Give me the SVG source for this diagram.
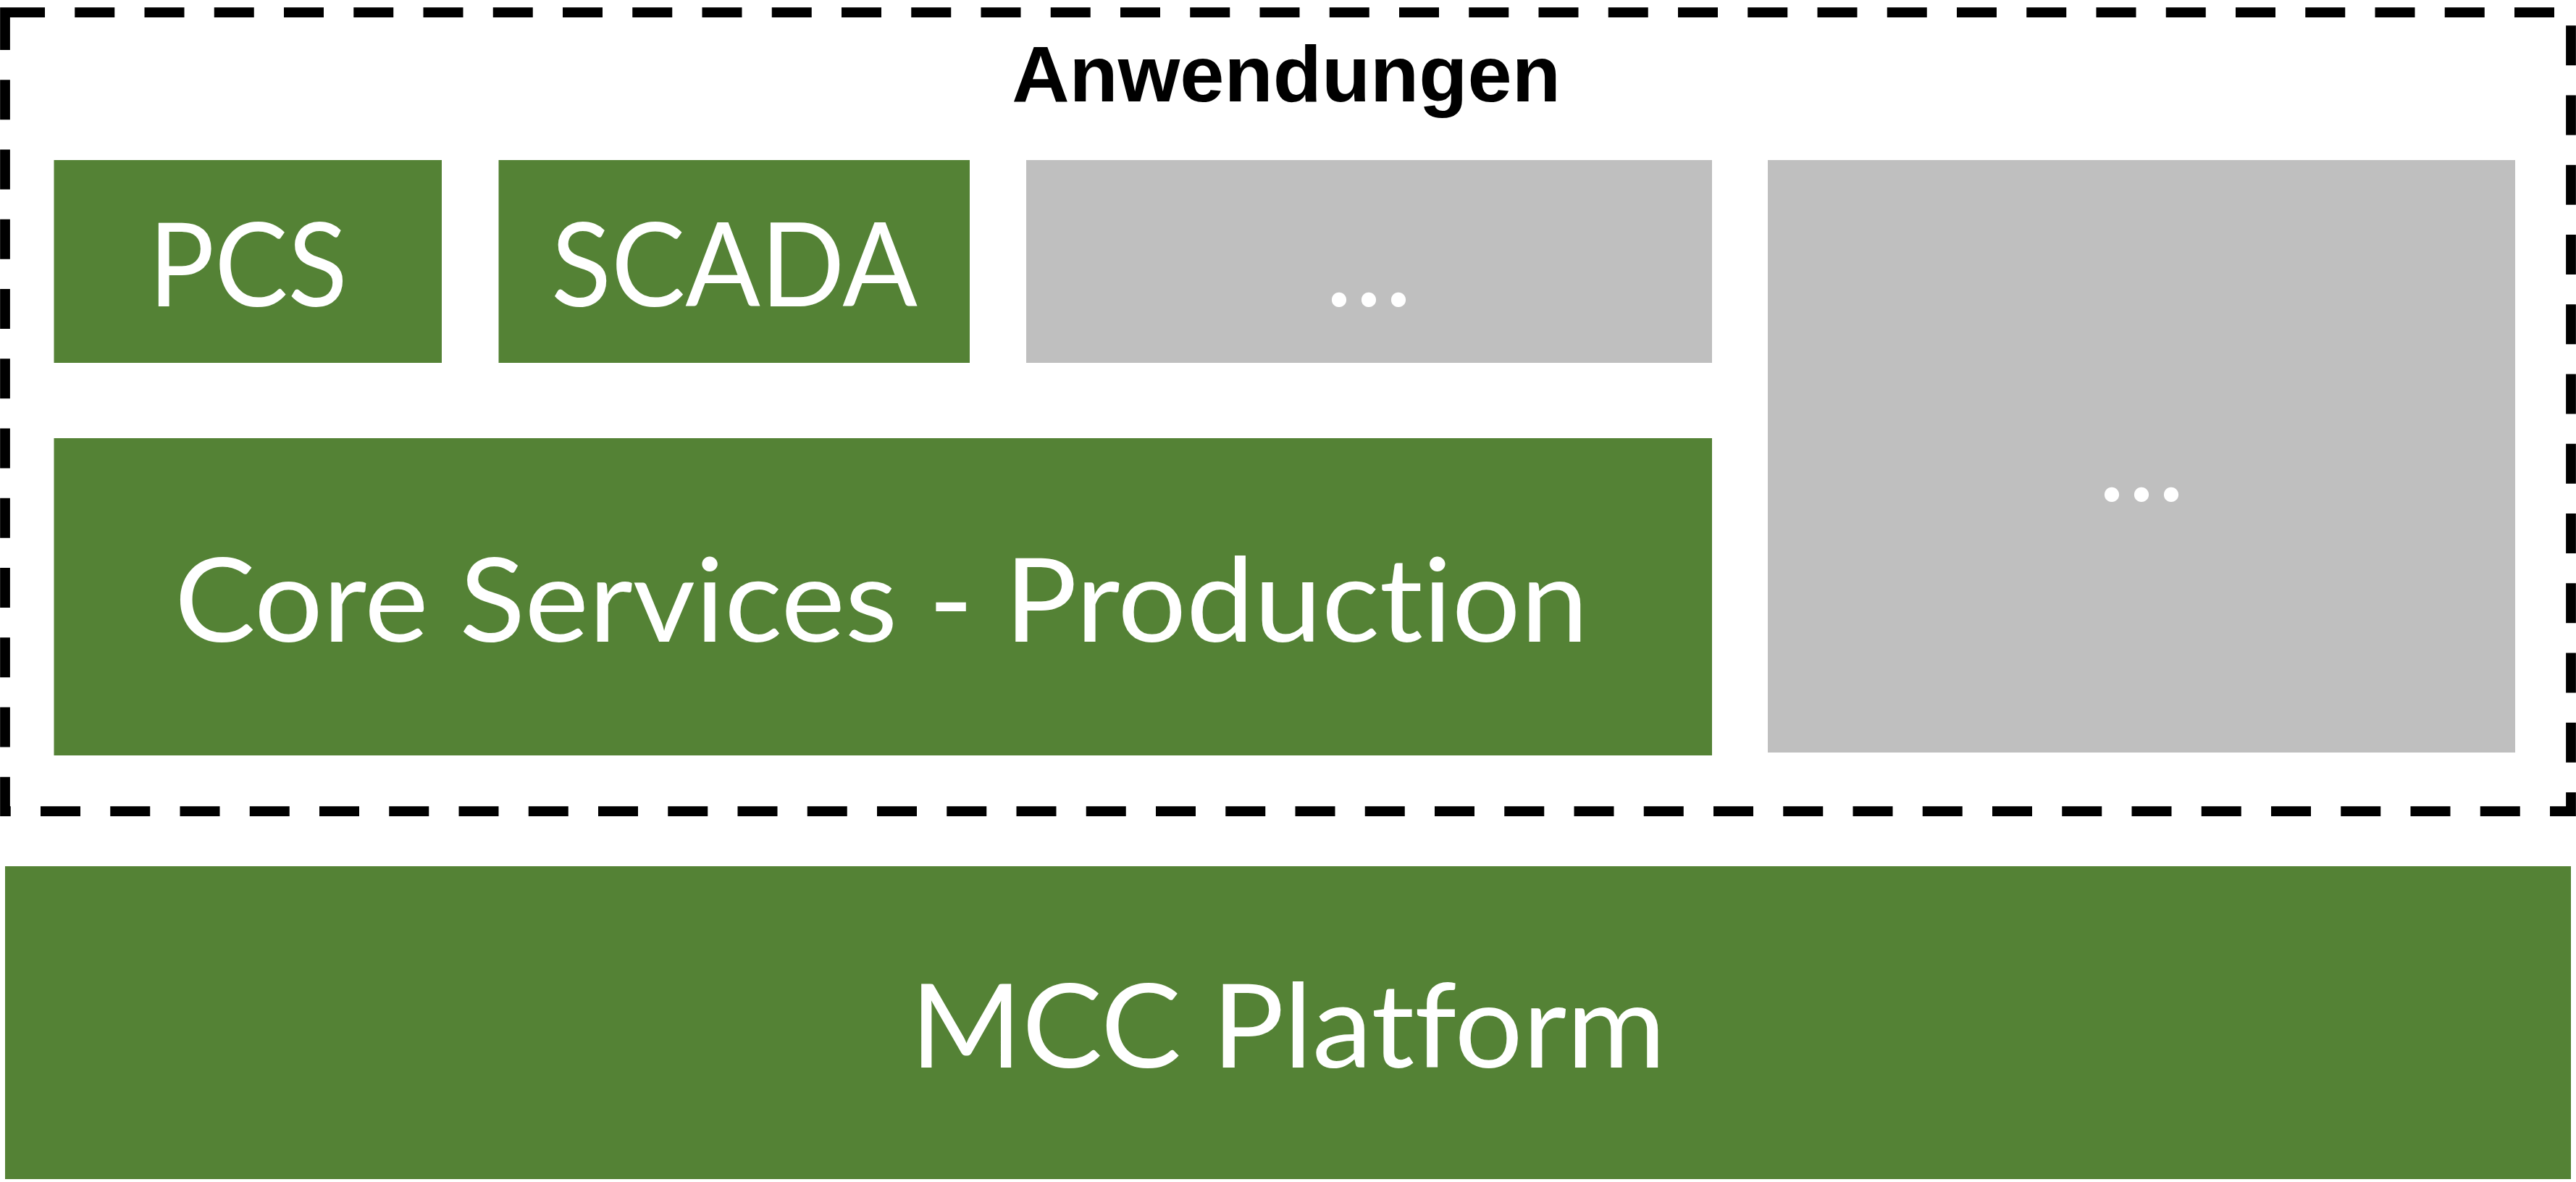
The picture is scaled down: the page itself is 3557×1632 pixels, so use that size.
<svg xmlns="http://www.w3.org/2000/svg" width="3557" height="1632" viewBox="0 0 3557 1632">
  <style>
    .green { fill: #548235; }
    .gray { fill: #BFBFBF; }
    .lbl { font-family: Lato, "Open Sans", "Liberation Sans", sans-serif; font-size: 161px; fill: #FFFFFF; text-anchor: middle; font-variant-ligatures: none; font-feature-settings: "liga" 0, "clig" 0, "dlig" 0; }
    .title { font-family: "Liberation Sans", Arial, sans-serif; font-weight: bold; font-size: 110px; fill: #000000; text-anchor: middle; }
    .frame { fill: none; stroke: #000000; stroke-width: 13.75; stroke-dasharray: 55 41.25; }
  </style>
  <rect x="0" y="0" width="3557" height="1632" fill="#FFFFFF"/>
  <g id="anwendungen">
    <rect class="frame" x="7" y="17" width="3543" height="1103"/>
    <text class="title" x="1776" y="140">Anwendungen</text>
  </g>
  <g id="pcs">
    <rect class="green" x="74.5" y="221" width="535.5" height="280"/>
    <text class="lbl" x="342.5" y="423" textLength="275" lengthAdjust="spacingAndGlyphs">PCS</text>
  </g>
  <g id="scada">
    <rect class="green" x="688.5" y="221" width="650.5" height="280"/>
    <text class="lbl" x="1014" y="423" textLength="506" lengthAdjust="spacingAndGlyphs">SCADA</text>
  </g>
  <g id="more1">
    <rect class="gray" x="1417" y="221" width="947" height="280"/>
    <text class="lbl" x="1890" y="423" textLength="120" lengthAdjust="spacing">...</text>
  </g>
  <g id="more2">
    <rect class="gray" x="2441" y="221" width="1032" height="818"/>
    <text class="lbl" x="2957" y="692" textLength="120" lengthAdjust="spacing">...</text>
  </g>
  <g id="core">
    <rect class="green" x="74.5" y="605" width="2289.5" height="438"/>
    <text class="lbl" x="1217" y="886" textLength="1952" lengthAdjust="spacingAndGlyphs">Core Services - Production</text>
  </g>
  <g id="mcc">
    <rect class="green" x="7" y="1196" width="3543" height="432"/>
    <text class="lbl" x="1778.5" y="1474" textLength="1043" lengthAdjust="spacingAndGlyphs">MCC Platform</text>
  </g>
  <g id="connectors"></g>
</svg>
